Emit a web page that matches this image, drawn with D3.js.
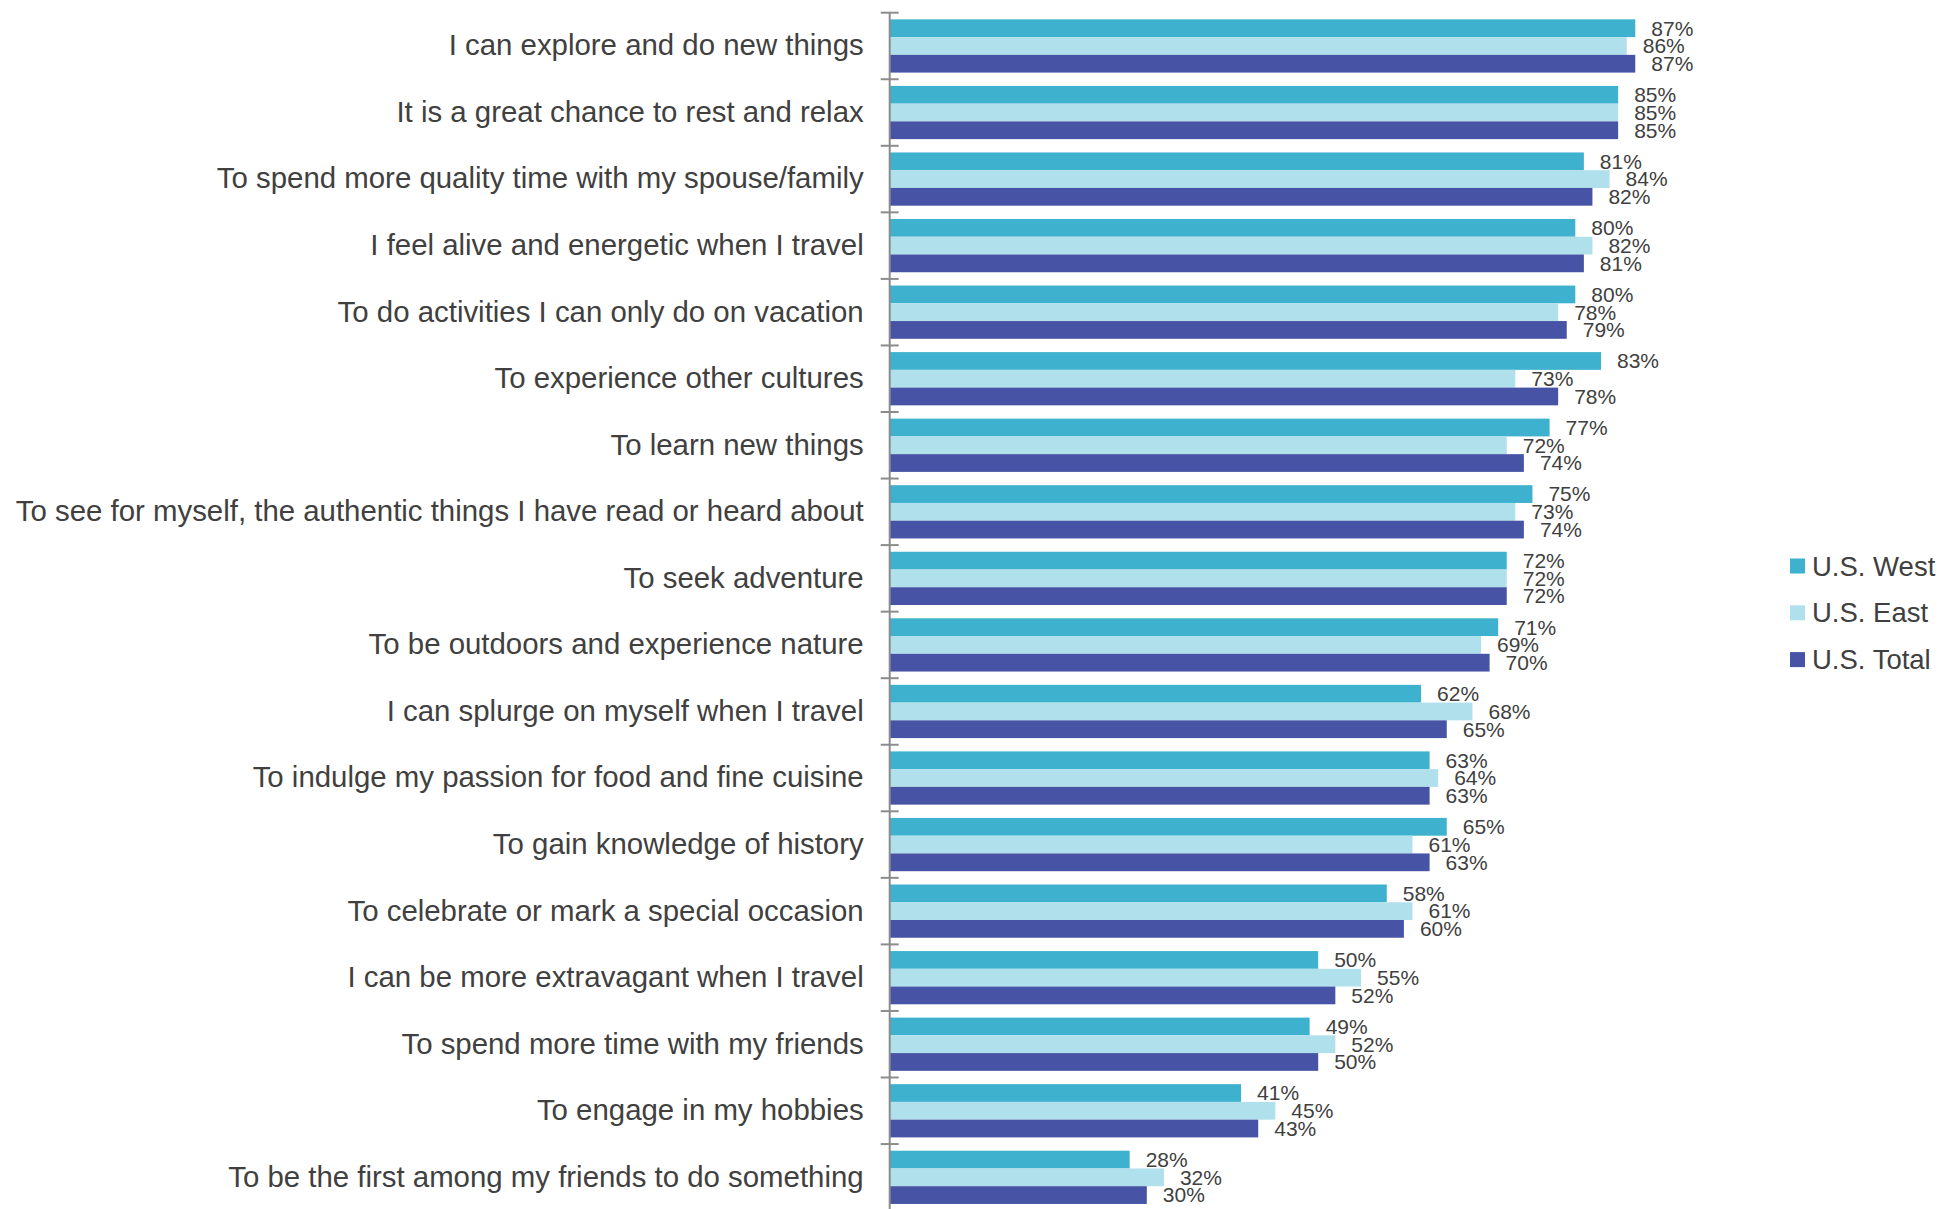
<!DOCTYPE html>
<html>
<head>
<meta charset="utf-8">
<script src="https://cdnjs.cloudflare.com/ajax/libs/d3/7.8.5/d3.min.js"></script>
<style>
  html, body { margin: 0; padding: 0; background: #fff; }
  svg { display: block; font-family: "Liberation Sans", Arial, sans-serif; }
</style>
</head>
<body>
<svg id="chart" width="1941" height="1209"></svg>
<script>
// chart data
var categories = [
  "I can explore and do new things",
  "It is a great chance to rest and relax",
  "To spend more quality time with my spouse/family",
  "I feel alive and energetic when I travel",
  "To do activities I can only do on vacation",
  "To experience other cultures",
  "To learn new things",
  "To see for myself, the authentic things I have read or heard about",
  "To seek adventure",
  "To be outdoors and experience nature",
  "I can splurge on myself when I travel",
  "To indulge my passion for food and fine cuisine",
  "To gain knowledge of history",
  "To celebrate or mark a special occasion",
  "I can be more extravagant when I travel",
  "To spend more time with my friends",
  "To engage in my hobbies",
  "To be the first among my friends to do something"
];
var seriesNames = ["U.S. West", "U.S. East", "U.S. Total"];
var west  = [87, 85, 81, 80, 80, 83, 77, 75, 72, 71, 62, 63, 65, 58, 50, 49, 41, 28];
var east  = [86, 85, 84, 82, 78, 73, 72, 73, 72, 69, 68, 64, 61, 61, 55, 52, 45, 32];
var total = [87, 85, 82, 81, 79, 78, 74, 74, 72, 70, 65, 63, 63, 60, 52, 50, 43, 30];
var colors = ["#3DB1CD", "#B0E0EB", "#4754A5"];

var seriesValues = [west, east, total];
var rows = categories.map(function (c, i) {
  return { cat: c, vals: seriesNames.map(function (s, j) { return { name: s, v: seriesValues[j][i] }; }) };
});

var svg = d3.select("#chart");
var axisX = 889.7;
var textColor = "#404040";
var fontFam = "'Liberation Sans', Arial, sans-serif";

var y = d3.scaleBand().domain(categories).range([12.7, 1210.6]).paddingInner(0.2).paddingOuter(0.1);
var y1 = d3.scaleBand().domain(seriesNames).range([0, y.bandwidth()]);
var x = d3.scaleLinear().domain([0, 100]).range([axisX, axisX + 857]);
var color = d3.scaleOrdinal().domain(seriesNames).range(colors);

// bars
var groups = svg.selectAll("g.cat").data(rows).enter().append("g")
  .attr("class", "cat")
  .attr("transform", function (d) { return "translate(0," + y(d.cat) + ")"; });

groups.selectAll("rect").data(function (d) { return d.vals; }).enter().append("rect")
  .attr("x", x(0))
  .attr("y", function (d) { return y1(d.name); })
  .attr("width", function (d) { return x(d.v) - x(0); })
  .attr("height", y1.bandwidth())
  .attr("fill", function (d) { return color(d.name); });

groups.selectAll("text.val").data(function (d) { return d.vals; }).enter().append("text")
  .attr("class", "val")
  .attr("x", function (d) { return x(d.v) + 16; })
  .attr("y", function (d) { return y1(d.name) + y1.bandwidth() / 2; })
  .attr("dy", "0.35em")
  .attr("font-size", "21px")
  .attr("fill", textColor)
  .text(function (d) { return d.v + "%"; });

// category axis
var yAxis = svg.append("g")
  .attr("transform", "translate(" + axisX + ",0)")
  .call(d3.axisLeft(y).tickSize(0).tickPadding(26));
yAxis.select(".domain").remove();
yAxis.selectAll("text")
  .attr("font-size", "29.4px")
  .attr("fill", textColor)
  .style("font-family", fontFam);

var bounds = categories.map(function (c) { return y(c) - y.step() * y.paddingOuter(); });
bounds.push(y.range()[1]);

svg.append("line")
  .attr("x1", axisX).attr("x2", axisX)
  .attr("y1", bounds[0]).attr("y2", bounds[bounds.length - 1])
  .attr("stroke", "#8c8c8c").attr("stroke-width", 2);

svg.selectAll("line.tick").data(bounds).enter().append("line")
  .attr("class", "tick")
  .attr("x1", axisX - 9).attr("x2", axisX + 9)
  .attr("y1", function (d) { return d; }).attr("y2", function (d) { return d; })
  .attr("stroke", "#8c8c8c").attr("stroke-width", 2);

// legend
var legend = svg.selectAll("g.legend").data(seriesNames).enter().append("g")
  .attr("class", "legend")
  .attr("transform", function (d, i) { return "translate(1790," + (566 + i * 46.8) + ")"; });
legend.append("rect")
  .attr("x", 0).attr("y", -7.5).attr("width", 15).attr("height", 15)
  .attr("fill", function (d) { return color(d); });
legend.append("text")
  .attr("x", 22).attr("y", 0).attr("dy", "0.35em")
  .attr("font-size", "27.5px")
  .attr("fill", textColor)
  .text(function (d) { return d; });
</script>
</body>
</html>
